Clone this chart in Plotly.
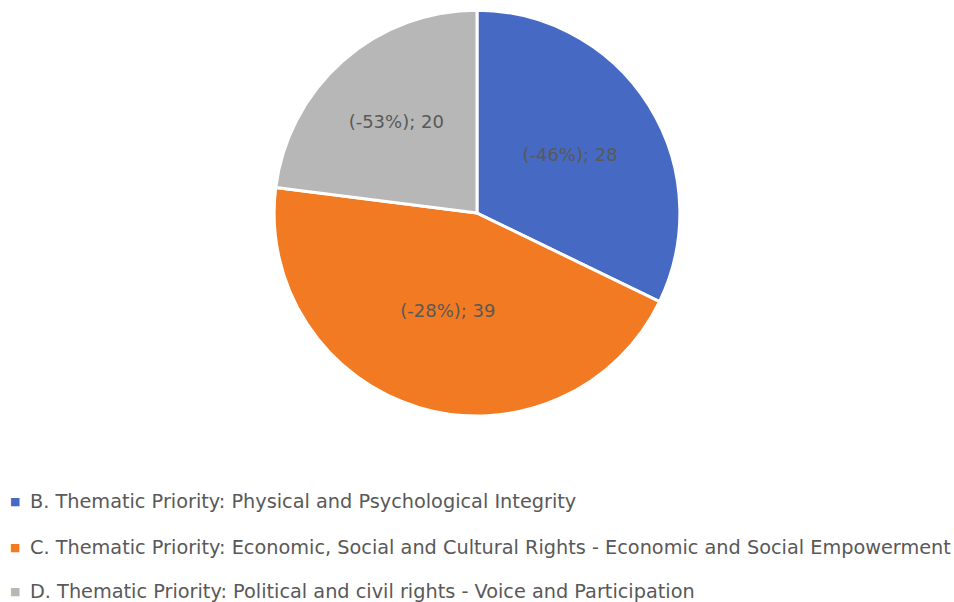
import plotly.graph_objects as go

categories = [
    "B. Thematic Priority: Physical and Psychological Integrity",
    "C. Thematic Priority: Economic, Social and Cultural Rights - Economic and Social Empowerment",
    "D. Thematic Priority: Political and civil rights - Voice and Participation",
]
values = [28, 39, 20]
changes = ["-46%", "-28%", "-53%"]
colors = ["#4669C3", "#F27A22", "#B7B7B7"]

labels_text = ["(%s); %d" % (c, v) for c, v in zip(changes, values)]

W, H = 954, 602

fig = go.Figure(go.Pie(
    labels=categories,
    values=values,
    text=labels_text,
    textinfo="text",
    hoverinfo="label+value",
    sort=False,
    direction="clockwise",
    rotation=0,
    marker=dict(colors=colors, line=dict(color="white", width=3)),
    textposition="inside",
    insidetextorientation="horizontal",
    textfont=dict(family="DejaVu Sans", size=18, color="#595959"),
    domain=dict(x=[0, 1], y=[0.309, 0.983]),
    showlegend=False,
))

# legend rows drawn as text, spacing as in the original (rows ~46px apart)
row_y = [501, 547, 591]
for name, col, ry in zip(categories, colors, row_y):
    fig.add_annotation(
        x=15 / W, y=1 - ry / H, xref="paper", yref="paper",
        text="■", showarrow=False, xanchor="center", yanchor="middle",
        font=dict(family="DejaVu Sans", size=11, color=col),
    )
    fig.add_annotation(
        x=28 / W, y=1 - ry / H, xref="paper", yref="paper",
        text=name, showarrow=False, xanchor="left", yanchor="middle",
        font=dict(family="DejaVu Sans", size=19.3, color="#595959"),
    )

fig.update_layout(
    width=W,
    height=H,
    margin=dict(l=0, r=0, t=0, b=0, autoexpand=False),
    paper_bgcolor="white",
    plot_bgcolor="white",
    font=dict(family="DejaVu Sans", color="#595959"),
    showlegend=False,
)

fig.write_html("out.html", config={"displayModeBar": False},
               post_script="document.body.style.margin = '0';")
